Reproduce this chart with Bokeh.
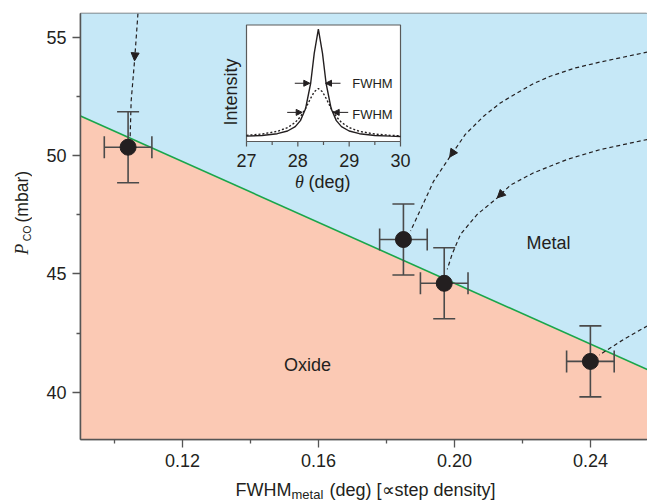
import math
from bokeh.plotting import figure
from bokeh.layouts import row, column
from bokeh.models import (Range1d, FixedTicker, NumeralTickFormatter, Label,
                          Arrow, NormalHead)
from bokeh.embed import file_html
from bokeh.resources import INLINE
from bokeh.core.properties import value

# ---------------- data ----------------
fwhm = [0.104, 0.185, 0.197, 0.240]
pco = [50.35, 46.45, 44.60, 41.30]
fwhm_err = [0.007, 0.007, 0.007, 0.007]
pco_err = [1.5, 1.5, 1.5, 1.5]

boundary_fwhm = [0.09, 0.26]
boundary_pco = [51.67, 40.75]

x_ticks = [0.12, 0.16, 0.20, 0.24]
x_minor = [0.10, 0.14, 0.18, 0.22]
y_ticks = [40, 45, 50, 55]
y_minor = [42.5, 47.5, 52.5]

# dashed trajectories
path_a_x = [0.1069, 0.1059, 0.1049, 0.1046]
path_a_y = [56.0, 54.0, 52.3, 50.75]
path_b_x = [0.2568, 0.2429, 0.2356, 0.2282, 0.2233, 0.2184, 0.2135, 0.2086,
            0.2032, 0.1986, 0.1939, 0.1905, 0.1871]
path_b_y = [54.37, 53.95, 53.70, 53.35, 53.04, 52.64, 52.22, 51.66,
            50.89, 49.93, 48.92, 47.86, 46.81]
path_c_x = [0.2568, 0.2429, 0.2331, 0.2233, 0.2165, 0.2126, 0.2067, 0.2018,
            0.1993, 0.1979]
path_c_y = [50.68, 50.25, 49.83, 49.27, 48.75, 48.21, 47.51, 46.67,
            45.82, 45.19]
path_d_x = [0.2568, 0.2499, 0.2426]
path_d_y = [42.80, 42.24, 41.57]

# inset: diffraction peaks
inset_theta = [27.0, 27.3, 27.6, 27.8, 27.95, 28.05, 28.15, 28.25, 28.32, 28.4,
               28.48, 28.55, 28.65, 28.75, 28.85, 29.0, 29.2, 29.5, 29.8, 30.0]
inset_sharp = [0.046, 0.052, 0.067, 0.090, 0.128, 0.179, 0.281, 0.500, 0.759, 0.965,
               0.759, 0.500, 0.281, 0.179, 0.128, 0.090, 0.067, 0.052, 0.046, 0.043]
inset_broad = [0.053, 0.064, 0.087, 0.119, 0.164, 0.213, 0.283, 0.371, 0.427, 0.455,
               0.427, 0.371, 0.283, 0.213, 0.164, 0.119, 0.087, 0.064, 0.053, 0.049]
inset_ticks = [27, 28, 29, 30]
inset_tick_labels = ["27", "28", "29", "30"]
inset_minor = [27.5, 28.5, 29.5]
half_max = [0.5, 0.25]
sharp_edges = [28.233, 28.539]
broad_edges = [28.085, 28.689]

# ---------------- layout ----------------
W, H = 647, 501
YL_W = 32          # strip holding the y title
XL_H = 24          # strip holding the x title
FL, FR, FT, FB = 80, 647, 13, 439          # main frame in page pixels
X0, X1 = 0.09, 0.2568
Y0, Y1 = 38.0, 56.0

def mx(px):
    return X0 + (px - FL) * (X1 - X0) / (FR - FL)

def my(py):
    return Y1 - (py - FT) * (Y1 - Y0) / (FB - FT)

# inset mapping (27 at page x 246, 30 at 400 ; 0 at page y 141, 1 at 24.5)
IXL, IXR, IYB, IYT = 246.0, 400.0, 141.0, 24.5
ipx = (IXR - IXL) / 3.0
ipy = (IYB - IYT) / 1.0

def ix(px):
    return 27 + (px - IXL) / ipx

def iy(py):
    return (IYB - py) / ipy

FONT = "Liberation Sans"
DARK = "#231f20"
AX = "#555555"

main_h = H - XL_H
p = figure(width=W - YL_W, height=main_h, output_backend="svg",
           toolbar_location=None, title=None,
           x_range=Range1d(X0, X1), y_range=Range1d(Y0, Y1),
           min_border_left=FL - YL_W, min_border_right=0,
           min_border_top=FT, min_border_bottom=main_h - FB,
           background_fill_color="white", border_fill_color="white")
p.extra_x_ranges = {"ix": Range1d(ix(FL), ix(FR))}
p.extra_y_ranges = {"iy": Range1d(iy(FB), iy(FT))}

p.xgrid.visible = False
p.ygrid.visible = False
p.outline_line_color = "#666666"
p.outline_line_width = 1.5

for ax in (p.xaxis[0], p.yaxis[0]):
    ax.axis_line_color = AX
    ax.axis_line_width = 1.5
    ax.major_tick_line_color = AX
    ax.major_tick_line_width = 1.3
    ax.minor_tick_line_color = AX
    ax.minor_tick_line_width = 1.3
    ax.major_tick_out = 8
    ax.major_tick_in = 0
    ax.minor_tick_out = 4
    ax.minor_tick_in = 0
    ax.major_label_text_font = FONT
    ax.major_label_text_font_size = "18px"
    ax.major_label_text_color = DARK
    ax.major_label_standoff = 6

p.xaxis[0].ticker = FixedTicker(ticks=x_ticks, minor_ticks=x_minor)
p.xaxis[0].formatter = NumeralTickFormatter(format="0.00")
p.yaxis[0].ticker = FixedTicker(ticks=y_ticks, minor_ticks=y_minor)

# regions
p.varea(x=boundary_fwhm, y1=boundary_pco, y2=[70, 70], fill_color="#c6e8f7")
p.varea(x=boundary_fwhm, y1=[20, 20], y2=boundary_pco, fill_color="#fbc9b4")
p.line(boundary_fwhm, boundary_pco, line_color="#19a64b", line_width=1.6)

# trajectories
for xs, ys in ((path_a_x, path_a_y), (path_b_x, path_b_y),
               (path_c_x, path_c_y), (path_d_x, path_d_y)):
    p.line(xs, ys, line_color=DARK, line_width=1.2, line_dash="4 3")
for xs, ys, i in ((path_a_x, path_a_y, 0), (path_b_x, path_b_y, 8),
                  (path_c_x, path_c_y, 4)):
    p.add_layout(Arrow(x_start=xs[i], y_start=ys[i], x_end=xs[i + 1], y_end=ys[i + 1],
                       line_color=None,
                       end=NormalHead(size=8, fill_color=DARK, line_color=DARK,
                                      line_width=1)))

# error bars
ylo = [v - e for v, e in zip(pco, pco_err)]
yhi = [v + e for v, e in zip(pco, pco_err)]
xlo = [v - e for v, e in zip(fwhm, fwhm_err)]
xhi = [v + e for v, e in zip(fwhm, fwhm_err)]
EB = "#4a4a4a"
p.segment(x0=fwhm, y0=ylo, x1=fwhm, y1=yhi, line_color=EB, line_width=1.6)
p.segment(x0=xlo, y0=pco, x1=xhi, y1=pco, line_color=EB, line_width=1.6)
p.scatter(x=fwhm + fwhm, y=ylo + yhi, marker="dash", size=22, line_color=EB,
          line_width=1.6)
p.scatter(x=xlo + xhi, y=pco + pco, marker="dash", size=22, angle=math.pi / 2,
          line_color=EB, line_width=1.6)
p.scatter(x=fwhm, y=pco, marker="circle", size=16, fill_color=DARK,
          line_color=DARK)

# region labels
for t, px, py in (("Metal", 548, 242), ("Oxide", 307, 364)):
    p.add_layout(Label(x=mx(px), y=my(py), text=t, text_align="center",
                       text_baseline="middle", text_font=FONT,
                       text_font_size="18px", text_color=DARK))

# ---------------- inset ----------------
R = dict(x_range_name="ix", y_range_name="iy")
p.quad(left=[27], right=[30], bottom=[0], top=[1], fill_color="white",
       line_color="#5a5a5a", line_width=1.2, **R)
p.line(inset_theta, inset_broad, line_color=DARK, line_width=1.4,
       line_dash="2 2", **R)
p.line(inset_theta, inset_sharp, line_color=DARK, line_width=1.4, **R)
p.segment(x0=inset_ticks, y0=[0] * 4, x1=inset_ticks, y1=[iy(IYB + 5)] * 4,
          line_color=AX, line_width=1.2, **R)
p.segment(x0=inset_minor, y0=[0] * 3, x1=inset_minor, y1=[iy(IYB + 3.5)] * 3,
          line_color=AX, line_width=1.2, **R)
p.text(x=inset_ticks, y=[iy(160)] * 4, text=inset_tick_labels,
       text_align="center", text_baseline="middle", text_font=value(FONT),
       text_font_size=value("18px"), text_color=DARK, **R)

def ilabel(text, x, y, size="18px", align="left", font=FONT, style="normal",
           angle=0.0):
    p.add_layout(Label(x=x, y=y, text=text, text_align=align,
                       text_baseline="middle", text_font=font,
                       text_font_style=style, text_font_size=size,
                       text_color=DARK, angle=angle, **R))

ilabel("Intensity", ix(230), iy(91.5), align="center", angle=math.pi / 2)
ilabel("θ", ix(299), iy(181.5), align="center", font="Liberation Serif",
       style="italic")
ilabel("(deg)", ix(308), iy(181.5))
ilabel("FWHM", ix(351.7), half_max[0], size="13px")
ilabel("FWHM", ix(351.7), iy(114), size="13px")

arrow_len = 15.0 / ipx
for level, (l, r) in zip(half_max, (sharp_edges, broad_edges)):
    for tip, sgn in ((l, -1), (r, 1)):
        p.add_layout(Arrow(x_start=tip + sgn * arrow_len, y_start=level,
                           x_end=tip, y_end=level, line_color=DARK,
                           line_width=1.0,
                           end=NormalHead(size=6, fill_color=DARK,
                                          line_color=DARK, line_width=1),
                           **R))

# ---------------- axis-title strips ----------------
def strip(w, h):
    f = figure(width=w, height=h, output_backend="svg", toolbar_location=None,
               title=None, x_range=Range1d(0, w), y_range=Range1d(0, h),
               x_axis_type=None, y_axis_type=None, min_border=0,
               outline_line_color=None, background_fill_color="white",
               border_fill_color="white")
    return f

ylab = strip(YL_W, main_h)
xlab = strip(W, XL_H)

def slabel(fig, text, x, y, size, font=FONT, style="normal", angle=0.0,
           baseline="middle", align="left"):
    fig.add_layout(Label(x=x, y=y, text=text, text_align=align,
                         text_baseline=baseline, text_font=font,
                         text_font_style=style, text_font_size=size,
                         text_color=DARK, angle=angle))

# x title (centre lines in page pixels: 489.5 main, 493.5 subscript)
slabel(xlab, "FWHM", 235, H - 489.5, "18px")
slabel(xlab, "metal", 291, H - 493.5, "13px")
slabel(xlab, "(deg) [∝step density]", 329, H - 489.5, "18px")

# y title (rotated, reading upwards)
slabel(ylab, "P", 21, main_h - 270, "18px", font="Liberation Serif",
       style="italic", angle=math.pi / 2)
slabel(ylab, "CO", 26, main_h - 255, "10.5px", angle=math.pi / 2)
slabel(ylab, "(mbar)", 21, main_h - 234, "17.5px", angle=math.pi / 2)

layout = column(row(ylab, p), xlab)
open("out.html", "w").write(file_html(layout, INLINE))
